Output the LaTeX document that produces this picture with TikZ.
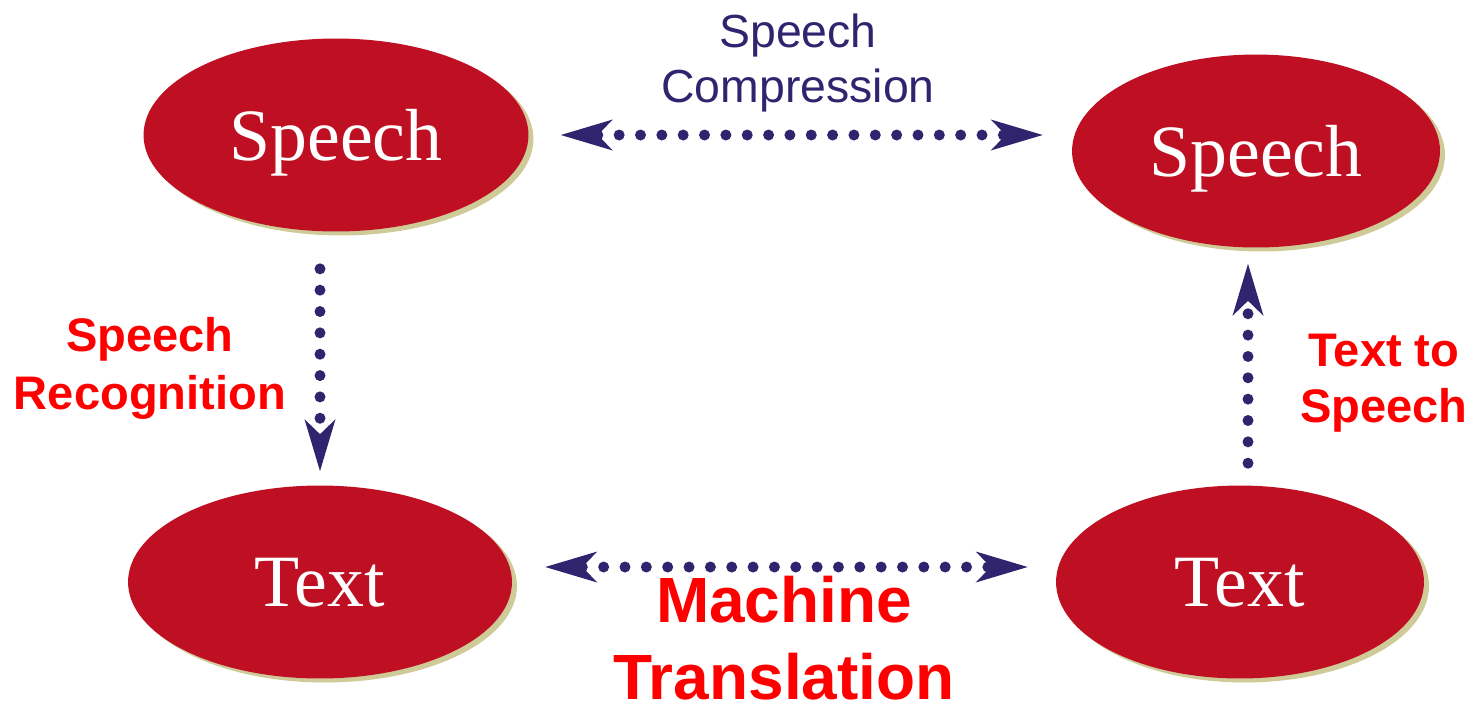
\documentclass[tikz,border=0pt]{standalone}
\usepackage{fontspec}
\setmainfont{Liberation Serif}
\setsansfont{Liberation Sans}
\usetikzlibrary{shapes.geometric,shadows,arrows.meta}
\definecolor{ovalred}{RGB}{190,16,34}
\definecolor{ovalshade}{RGB}{207,203,152}
\definecolor{linkblue}{RGB}{49,36,110}
\definecolor{tagred}{RGB}{255,0,0}

\begin{document}
\begin{tikzpicture}[x=0.02cm,y=-0.02cm,
        >={Stealth[length=1.04cm,width=0.62cm,inset=0.3cm,line width=0pt]},
        oval/.style={ellipse,fill=ovalred,text=white,inner sep=0pt,
            minimum height=3.86cm,text depth=0pt,font=\fontsize{42}{42}\selectfont,
            drop shadow={shadow xshift=0.1cm,shadow yshift=-0.08cm,fill=ovalshade,opacity=1}},
        link/.style={draw=linkblue,line width=0.22cm,line cap=round,
            dash pattern=on 0pt off 0.427cm},
        tag/.style={align=center,text=tagred,
            font=\sffamily\bfseries\fontsize{26.8}{33}\selectfont}]
        \useasboundingbox (0,0) rectangle (1477,704);
        % the four ovals
        \node[oval,minimum width=7.7cm]  (sp1) at (336,135)  {Speech};
        \node[oval,minimum width=7.36cm] (sp2) at (1256,151) {Speech};
        \node[oval,minimum width=7.68cm] (tx1) at (320,582)  {Text};
        \node[oval,minimum width=7.36cm] (tx2) at (1240,582) {Text};
        % labels
        \node[tag] (rec) at (150,368) {Speech\\Recognition};
        \node[tag,font=\sffamily\bfseries\fontsize{26.8}{32}\selectfont] (tts) at (1384,383) {Text to\\Speech};
        \node[tag,text=linkblue,font=\sffamily\fontsize{26.4}{31}\selectfont] (cmp) at (798,63) {Speech\\Compression};
        \node[tag,font=\sffamily\bfseries\fontsize{36.4}{44}\selectfont] (mt) at (784,638) {Machine\\Translation};
        % dotted links
        \draw[link,<->,shorten <=0.64cm,shorten >=0.58cm] (sp1.east) -- (sp1.east -| sp2.west);
        \draw[link,<->,shorten <=0.66cm,shorten >=0.56cm] ([yshift=0.3cm]tx1.east) -- ([yshift=0.3cm]tx2.west);
        \draw[link,->,shorten <=0.74cm,shorten >=0.28cm] (tx1.north |- sp1.south) -- (tx1.north);
        \draw[link,->,shorten <=0.44cm,shorten >=0.32cm] ([xshift=0.16cm]tx2.north) -- ([xshift=0.16cm]tx2.north |- sp2.south);
\end{tikzpicture}
\end{document}
